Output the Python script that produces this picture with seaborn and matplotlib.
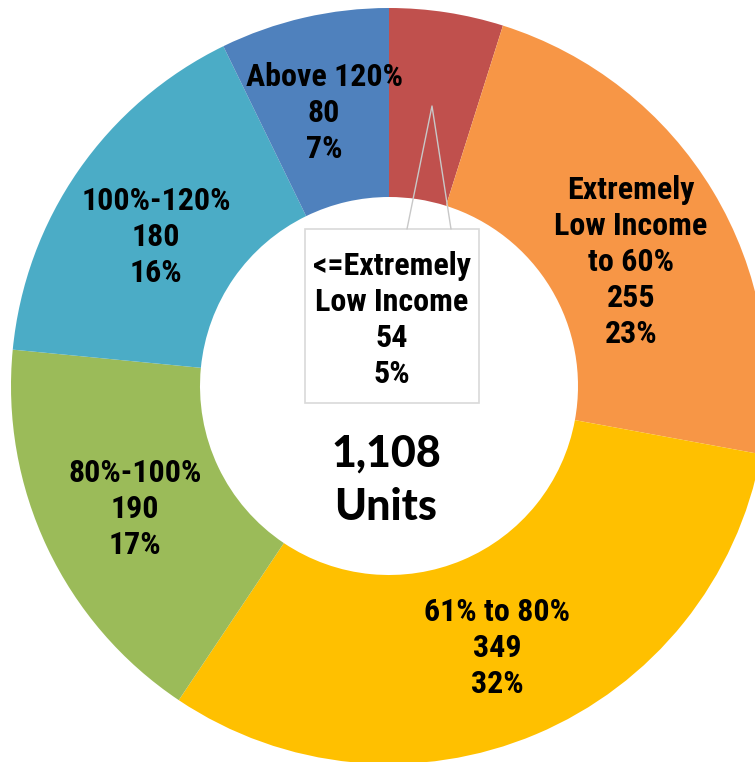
import matplotlib
matplotlib.use("Agg")
import matplotlib.pyplot as plt
import seaborn as sns
from matplotlib.patches import Rectangle

# ---- data ----
categories = ["<=Extremely\nLow Income", "Extremely\nLow Income\nto 60%", "61% to 80%",
              "80%-100%", "100%-120%", "Above 120%"]
units = [54, 255, 349, 190, 180, 80]
percents = ["5%", "23%", "32%", "17%", "16%", "7%"]
colors = ["#C0504D", "#F79646", "#FFC000", "#9BBB59", "#4BACC6", "#4F81BD"]
total_label = "1,108\nUnits"

# ---- layout (pixel coordinates of the 755x762 canvas) ----
W, H = 755, 762
center_px = (389, 386)
r_out, r_in = 378, 189
label_px = [(392, 320), (631, 262), (497, 648), (135, 509), (156, 237), (324, 113)]

sns.set_theme(style="white")
label_family = ["Roboto Condensed", "Liberation Sans Narrow", "Roboto", "DejaVu Sans"]

fig = plt.figure(figsize=(W / 100, H / 100), dpi=100)
ax = fig.add_axes([0, 0, 1, 1])

def fy(y):
    return H - y

ax.pie(units, colors=colors, startangle=90, counterclock=False,
       center=(center_px[0], fy(center_px[1])), radius=r_out,
       wedgeprops=dict(width=r_out - r_in, edgecolor="none", linewidth=0))

# callout box for the small slice
box = Rectangle((305, fy(403)), 479 - 305, 403 - 229, facecolor="white",
                edgecolor="#D9D9D9", linewidth=1.2, zorder=3)
ax.add_patch(box)
ax.plot([407, 432, 451], [fy(229), fy(106), fy(229)], color="#C8C8C8", lw=1.0, zorder=3)

for cat, u, p, (x, y) in zip(categories, units, percents, label_px):
    ax.text(x, fy(y), f"{cat}\n{u}\n{p}", ha="center", va="center",
            fontsize=23, fontweight="bold", family=label_family,
            linespacing=1.25, color="black", zorder=4)

ax.text(386, fy(480), total_label, ha="center", va="center", fontsize=31,
        fontweight=900, family=["Lato", "DejaVu Sans"], linespacing=1.42,
        color="black", zorder=4)

ax.set_xlim(0, W)
ax.set_ylim(0, H)
ax.set_aspect("equal")
ax.axis("off")
fig.savefig("out.png", dpi=100, facecolor="white")
